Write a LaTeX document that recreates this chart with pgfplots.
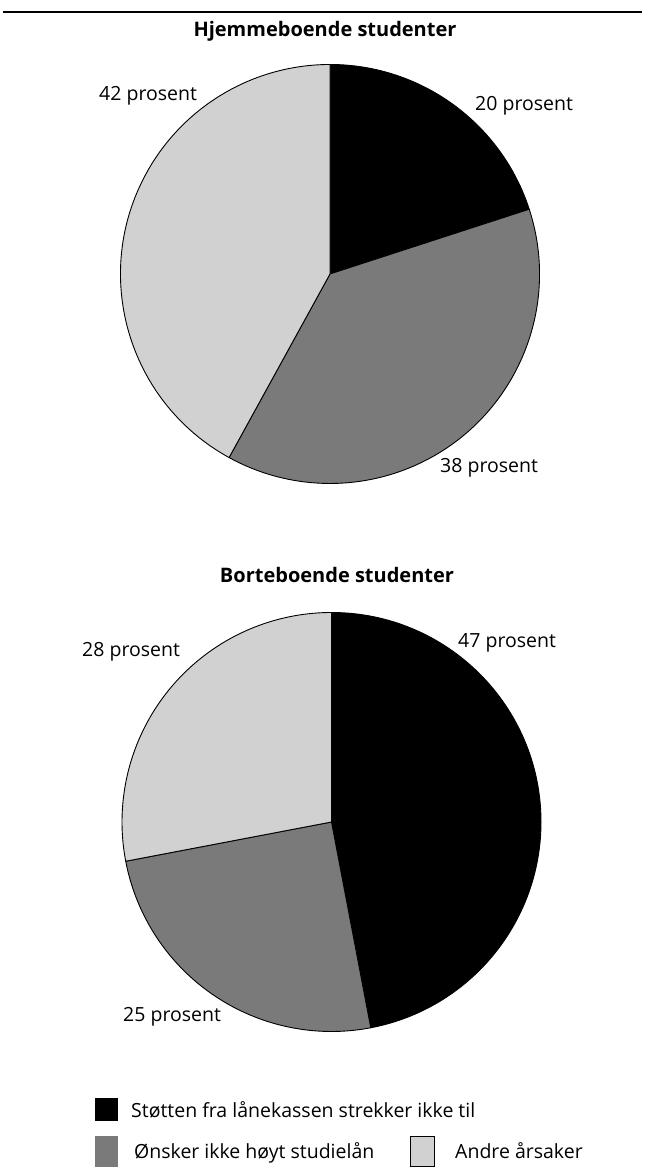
\documentclass[border=0pt]{standalone}
\usepackage{pgfplots}
\usepackage{pgfplotstable}
\pgfplotsset{compat=1.18}
\usetikzlibrary{calc}
\usepackage{fontspec}
\setmainfont{Open Sans}

% Share of students (percent) per reason
\pgfplotstableread{
share
20
38
42
}\hjemme
\pgfplotstableread{
share
47
25
28
}\borte

\definecolor{morkgraa}{gray}{0.48}
\definecolor{lysgraa}{gray}{0.82}

% Cumulative start/end angles (clockwise from 12 o'clock)
\newcommand\pieangles[1]{%
  \pgfplotstablegetelem{0}{share}\of{#1}\let\sA\pgfplotsretval
  \pgfplotstablegetelem{1}{share}\of{#1}\let\sB\pgfplotsretval
  \pgfplotstablegetelem{2}{share}\of{#1}\let\sC\pgfplotsretval
  \pgfmathsetmacro\aA{90}%
  \pgfmathsetmacro\aB{90-3.6*\sA}%
  \pgfmathsetmacro\aC{\aB-3.6*\sB}%
  \pgfmathsetmacro\aD{\aC-3.6*\sC}%
}
% One wedge of unit radius in axis coordinates
\newcommand\sector[3]{%
  \filldraw[fill=#3, draw=black, line width=0.9bp, line join=round]
    let \p0=(axis cs:0,0), \p1=(axis cs:1,0), \n1={\x1-\x0} in
    (\p0) -- ++(#1:\n1) arc[start angle=#1, end angle=#2, radius=\n1] -- cycle;}

\pgfplotsset{piestyle/.style={
  hide axis, scale only axis, clip=false,
  width=419bp, height=419bp,
  xmin=-1, xmax=1, ymin=-1, ymax=1,
  anchor=origin}}

\newcommand\lbl{\fontsize{19.5bp}{23bp}\selectfont}
\newcommand\ttl{\fontsize{20bp}{24bp}\selectfont\bfseries}

\begin{document}
\begin{tikzpicture}[x=1bp, y=1bp]
\useasboundingbox (0,0) rectangle (645,1167);

% top rule
\draw[line width=1.6bp] (3,1155) -- (642,1155);

% ---- Hjemmeboende studenter
\node[anchor=base, inner sep=0] at (325,1130) {\ttl Hjemmeboende studenter};
\pieangles{\hjemme}
\begin{axis}[piestyle, at={(330bp,893bp)}]
  \sector{\aA}{\aB}{black}
  \sector{\aB}{\aC}{morkgraa}
  \sector{\aC}{\aD}{lysgraa}
\end{axis}
\node[anchor=base west, inner sep=0] at (99,1066) {\lbl 42 prosent};
\node[anchor=base west, inner sep=0] at (475,1056) {\lbl 20 prosent};
\node[anchor=base west, inner sep=0] at (440,694) {\lbl 38 prosent};

% ---- Borteboende studenter
\node[anchor=base, inner sep=0] at (337,584) {\ttl Borteboende studenter};
\pieangles{\borte}
\begin{axis}[piestyle, at={(331.5bp,345bp)}]
  \sector{\aA}{\aB}{black}
  \sector{\aB}{\aC}{morkgraa}
  \sector{\aC}{\aD}{lysgraa}
\end{axis}
\node[anchor=base west, inner sep=0] at (458,519) {\lbl 47 prosent};
\node[anchor=base west, inner sep=0] at (82,510) {\lbl 28 prosent};
\node[anchor=base west, inner sep=0] at (123,145) {\lbl 25 prosent};

% ---- legend
\fill[black] (95,46) rectangle (118,69);
\node[anchor=base west, inner sep=0] at (131,49) {\lbl Støtten fra lånekassen strekker ikke til};
\fill[morkgraa] (95,0) rectangle (118,31);
\node[anchor=base west, inner sep=0] at (134,8) {\lbl Ønsker ikke høyt studielån};
\filldraw[fill=lysgraa, draw=black, line width=0.6bp] (410.3,0.3) rectangle (434,31);
\node[anchor=base west, inner sep=0] at (455,8) {\lbl Andre årsaker};
\end{tikzpicture}
\end{document}
